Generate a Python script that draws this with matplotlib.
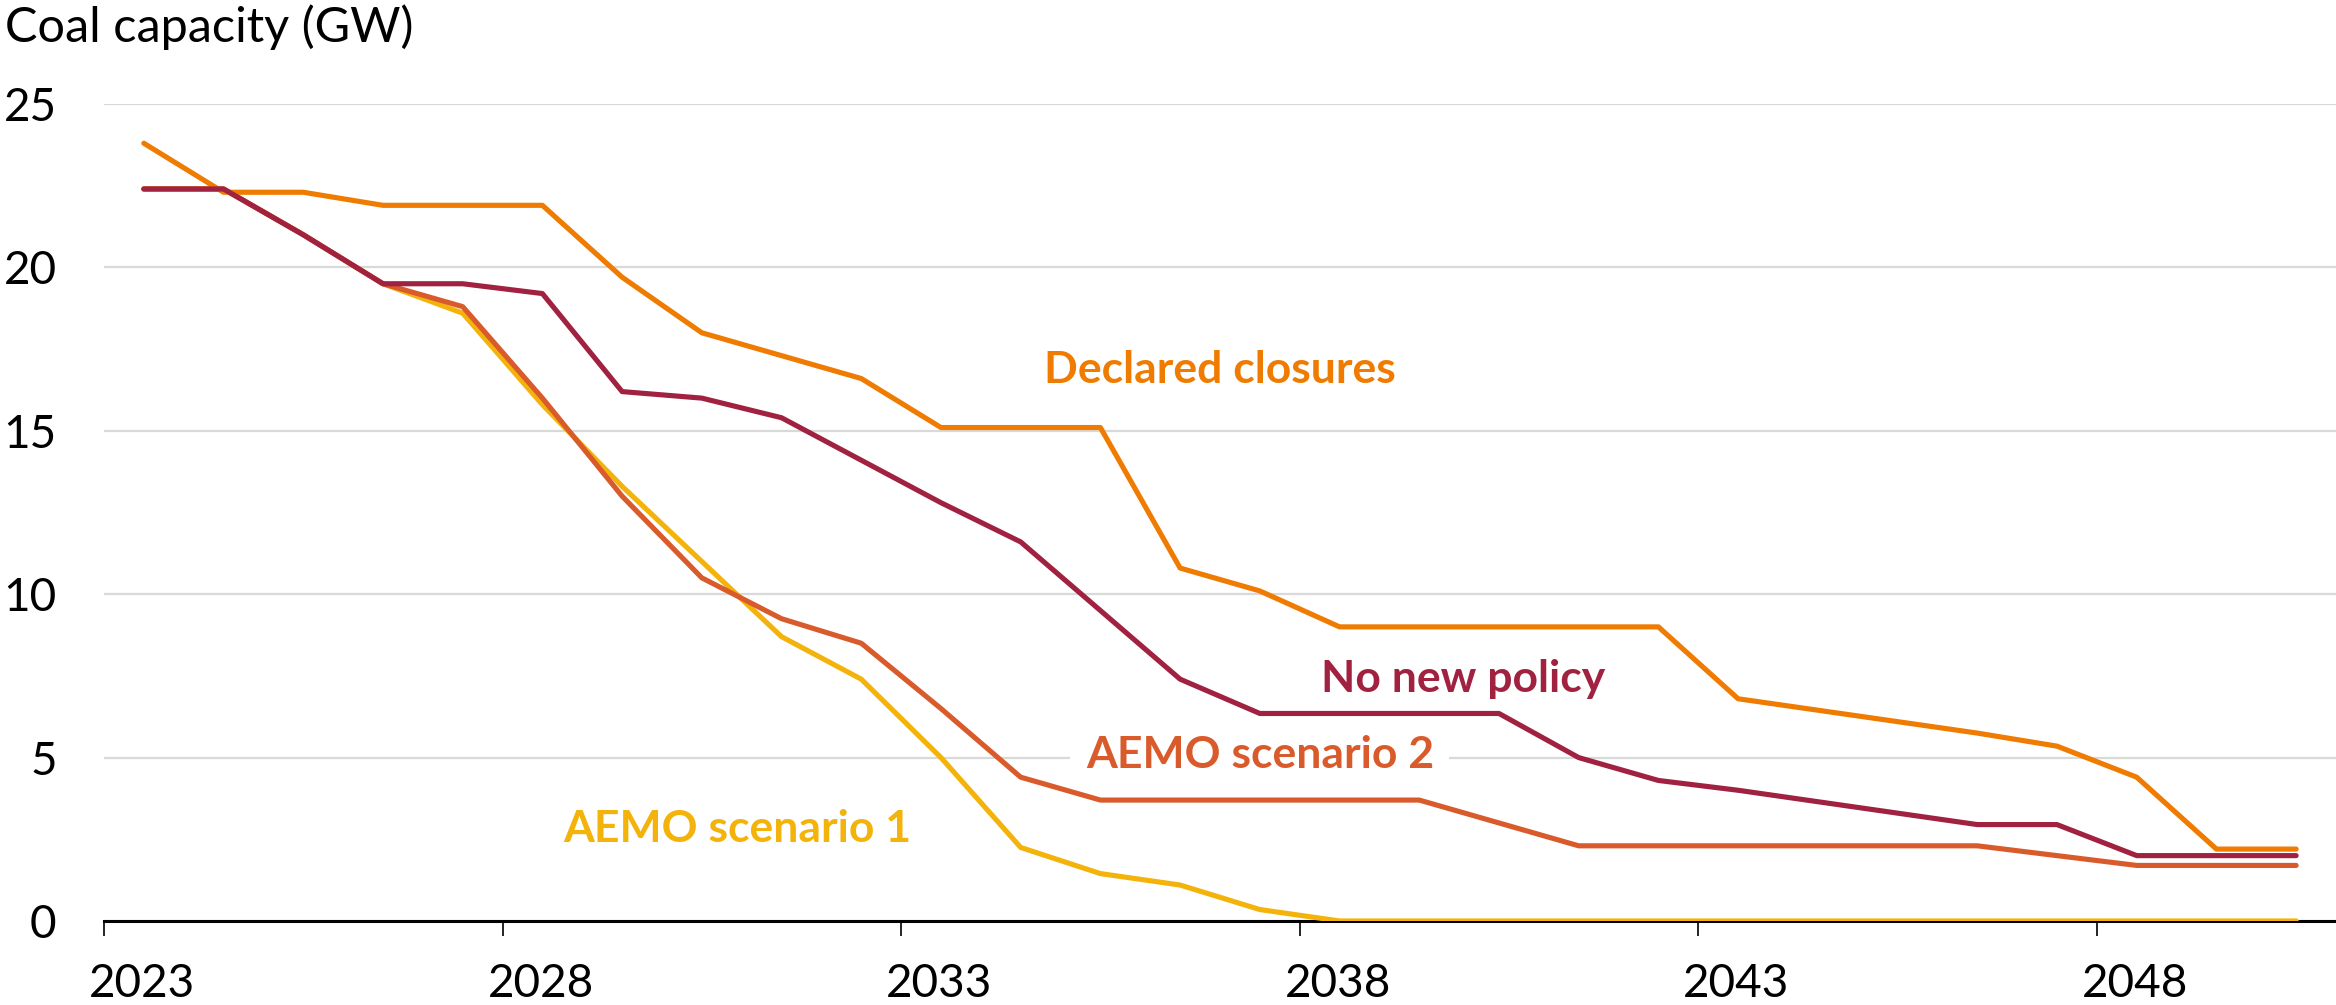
import numpy as np
import matplotlib
matplotlib.use("Agg")
import matplotlib.pyplot as plt
import matplotlib.transforms as mtransforms

# financial-year midpoints, 2023-24 .. 2050-51
years = np.arange(2023.5, 2051.0, 1.0)

declared = [23.8, 22.3, 22.3, 21.9, 21.9, 21.9, 19.7, 18.0, 17.3, 16.6,
            15.1, 15.1, 15.1, 10.8, 10.1, 9.0, 9.0, 9.0, 9.0, 9.0,
            6.8, 6.45, 6.1, 5.75, 5.35, 4.4, 2.2, 2.2]
no_policy = [22.4, 22.4, 21.0, 19.5, 19.5, 19.2, 16.2, 16.0, 15.4, 14.1,
             12.8, 11.6, 9.5, 7.4, 6.35, 6.35, 6.35, 6.35, 5.0, 4.3,
             4.0, 3.65, 3.3, 2.95, 2.95, 2.0, 2.0, 2.0]
aemo2 = [22.4, 22.4, 21.0, 19.5, 18.8, 16.0, 13.0, 10.5, 9.25, 8.5,
         6.5, 4.4, 3.7, 3.7, 3.7, 3.7, 3.7, 3.0, 2.3, 2.3,
         2.3, 2.3, 2.3, 2.3, 2.0, 1.7, 1.7, 1.7]
aemo1 = [22.4, 22.4, 21.0, 19.5, 18.6, 15.8, 13.3, 11.0, 8.7, 7.4,
         5.0, 2.25, 1.45, 1.1, 0.35, 0.0, 0.0, 0.0, 0.0, 0.0,
         0.0, 0.0, 0.0, 0.0, 0.0, 0.0, 0.0, 0.0]

xticks = [2023, 2028, 2033, 2038, 2043, 2048]
yticks = [0, 5, 10, 15, 20, 25]

c_declared = "#EF7B00"
c_policy = "#A02140"
c_aemo2 = "#D95B2B"
c_aemo1 = "#F4B30A"

plt.rcParams['font.family'] = ['Lato', 'DejaVu Sans']

fig = plt.figure(figsize=(23.36, 10.05), dpi=100)
ax = fig.add_axes([0.0445, 0.0836, 0.9555, 0.8129])

lw = 3.7
ax.plot(years, aemo1, color=c_aemo1, lw=lw, solid_capstyle='round', zorder=3)
ax.plot(years, aemo2, color=c_aemo2, lw=lw, solid_capstyle='round', zorder=4)
ax.plot(years, declared, color=c_declared, lw=lw, solid_capstyle='round', zorder=5)
ax.plot(years, no_policy, color=c_policy, lw=lw, solid_capstyle='round', zorder=6)

ax.set_xlim(2023, 2051)
ax.set_ylim(0, 25)
ax.set_xticks(xticks)
ax.set_xticklabels([])
ax.set_yticks(yticks)

for s in ['top', 'right', 'left']:
    ax.spines[s].set_visible(False)
ax.spines['bottom'].set_linewidth(2.2)
ax.spines['bottom'].set_zorder(2)
ax.set_axisbelow(True)
ax.yaxis.grid(True, color="#D9D9D9", lw=1.6)
ax.tick_params(axis='x', length=11, width=1.2)
ax.tick_params(axis='y', length=0, pad=34, labelsize=33)

# year labels start just left of their tick, well below the axis
shift = mtransforms.ScaledTranslation(-0.15, -0.76, fig.dpi_scale_trans)
for t in xticks:
    ax.text(t, 0, str(t), transform=ax.get_xaxis_transform() + shift,
            fontsize=33, ha='left', va='baseline')

lab = dict(fontsize=32, fontweight='bold', ha='center', va='baseline')
ax.text(2037.0, 16.46, "Declared closures", color=c_declared, **lab)
ax.text(2040.05, 7.02, "No new policy", color=c_policy, zorder=7, **lab)
ax.text(2037.5, 4.67, "AEMO scenario 2", color=c_aemo2, zorder=1.5,
        bbox=dict(boxstyle='square,pad=0.35', fc='white', ec='none'), **lab)
ax.text(2030.95, 2.42, "AEMO scenario 1", color=c_aemo1, **lab)

fig.text(0.002, 1 - 42 / 1005, "Coal capacity (GW)", fontsize=35,
         ha='left', va='baseline')

fig.savefig("out.png", dpi=100)
